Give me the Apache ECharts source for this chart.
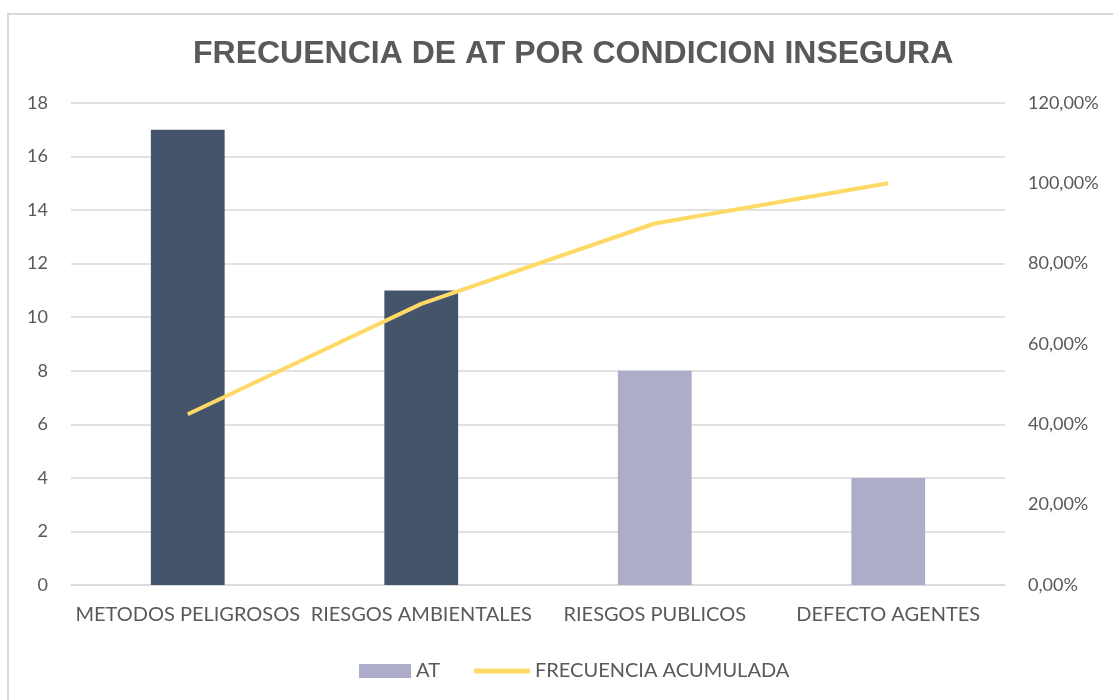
<!DOCTYPE html>
<html><head><meta charset="utf-8">
<script src="https://cdn.jsdelivr.net/npm/echarts@6/dist/echarts.min.js"></script>
<style>html,body{margin:0;padding:0;background:#fff}#c{width:1113px;height:700px}</style>
</head><body><div id="c"></div>
<script>
const categories = ['METODOS PELIGROSOS', 'RIESGOS AMBIENTALES', 'RIESGOS PUBLICOS', 'DEFECTO AGENTES'];
const atValues = [17, 11, 8, 4];
const cumulative = [0.425, 0.70, 0.90, 1.00];
const leftTicks = {min: 0, max: 18, interval: 2};
const rightTicks = {min: 0, max: 1.2, interval: 0.2};
const darkCount = 2;

const DARK = '#44546A', LIGHT = '#ADADC9', LINE = '#FFD966';
const FONT = 'Lato, "Open Sans", sans-serif';

const chart = echarts.init(document.getElementById('c'));
chart.setOption({
  animation: false,
  graphic: [{type: 'rect', shape: {x: 8, y: 14, width: 1200, height: 800},
    style: {fill: 'none', stroke: '#D9D9D9', lineWidth: 2}, silent: true}],
  title: {text: 'FRECUENCIA DE AT POR CONDICION INSEGURA', left: 188, top: 33,
    textStyle: {fontFamily: '"Liberation Sans", Arial, sans-serif', fontWeight: 'bold', fontSize: 32, color: '#595959'}},
  grid: {left: 71, right: 108, top: 103, bottom: 115},
  legend: [
    {left: 354, top: 656, itemWidth: 52, itemHeight: 14,
     textStyle: {fontFamily: FONT, fontSize: 20, color: '#595959'},
     data: [{name: 'AT', icon: 'rect'}]},
    {left: 469, top: 656, itemWidth: 56, itemHeight: 5,
     textStyle: {fontFamily: FONT, fontSize: 20, color: '#595959'},
     data: [{name: 'FRECUENCIA ACUMULADA', icon: 'roundRect'}]}
  ],
  xAxis: {type: 'category', data: categories,
    axisLine: {lineStyle: {color: '#D9D9D9', width: 1.5}}, axisTick: {show: false},
    axisLabel: {fontFamily: FONT, fontSize: 20, color: '#595959', margin: 20, interval: 0}},
  yAxis: [
    {type: 'value', min: leftTicks.min, max: leftTicks.max, interval: leftTicks.interval,
     axisLine: {show: false}, axisTick: {show: false},
     axisLabel: {fontFamily: FONT, fontSize: 18, color: '#595959', margin: 23},
     splitLine: {lineStyle: {color: '#D9D9D9', width: 1.5}}},
    {type: 'value', min: rightTicks.min, max: rightTicks.max, interval: rightTicks.interval,
     axisLine: {show: false}, axisTick: {show: false}, splitLine: {show: false},
     axisLabel: {fontFamily: FONT, fontSize: 18, color: '#595959', margin: 23,
       formatter: v => (v * 100).toFixed(2).replace('.', ',') + '%'}}
  ],
  series: [
    {name: 'AT', type: 'bar', barWidth: '31.6%', itemStyle: {color: LIGHT},
     data: atValues.map((v, i) => i < darkCount ? {value: v, itemStyle: {color: DARK}} : v)},
    {name: 'FRECUENCIA ACUMULADA', type: 'line', yAxisIndex: 1, data: cumulative,
     symbol: 'none', lineStyle: {color: LINE, width: 4}, itemStyle: {color: LINE}}
  ]
});
</script></body></html>
